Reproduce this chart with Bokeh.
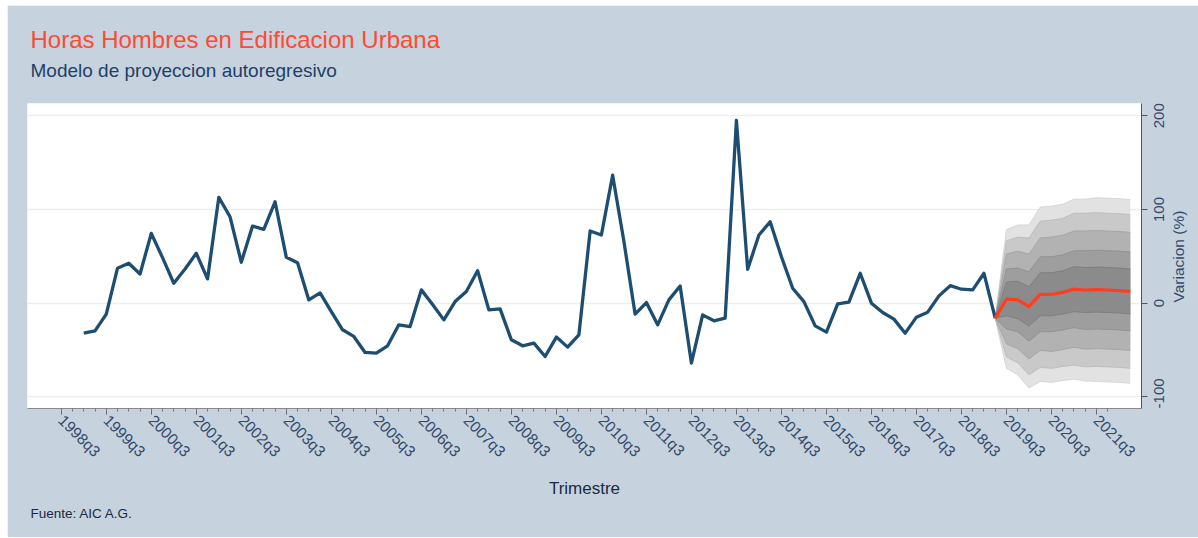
import math
from bokeh.plotting import figure
from bokeh.models import Range1d, FixedTicker, Title, LinearAxis
from bokeh.embed import file_html
from bokeh.resources import INLINE

# ---------------- data ----------------
# quarter index: 0 = 1998q3
hist_start = 2   # 1999q1
hist_vals = [-32, -29.5, -11.7, 37.3, 42.6, 31.2, 74.5, 48.6, 21.3, 36.5,
             53.2, 25.9, 112.9, 92.2, 43.7, 82.3, 78.8, 108.2, 49.0, 43.2,
             3.5, 11.0, -9.0, -28.4, -35.5, -52.6, -53.3, -45.5, -23.1, -24.9,
             14.2, -1.5, -17.8, 1.7, 12.4, 34.7, -7.1, -6.1, -39.1, -45.5,
             -42.6, -56.9, -36.2, -46.9, -33.8, 77.0, 72.7, 136.6, 66.0, -11.7,
             0.7, -23.1, 3.5, 18.4, -63.9, -12.5, -18.8, -16.0, 195.2, 36.2,
             72.7, 86.9, 49.6, 16.0, 1.7, -24.2, -30.9, -0.7, 1.1, 31.9,
             0.0, -10.0, -17.0, -32.0, -14.9, -9.6, 7.8, 18.7, 14.9, 14.2,
             31.9, -16.0]

fc_start = 83    # 2019q2
fc_mean = [-16, 4.5, 3.5, -3.5, 9.5, 9.5, 11.5, 15, 14, 14.5, 14, 13.5, 12.5]
fc_up5 = [-16, 78.5, 83.5, 83.5, 102.5, 103.5, 105.5, 111, 111, 112.5, 112, 111.5, 110.5]
fc_lo5 = [-16, -69.5, -76.5, -90.5, -83.5, -84.5, -82.5, -81, -83, -83.5, -84, -84.5, -85.5]
fc_up4 = [-16, 66.5, 70.5, 69.5, 87.5, 88.5, 90.5, 96, 96, 96.5, 96, 95.5, 94.5]
fc_lo4 = [-16, -57.5, -63.5, -76.5, -68.5, -69.5, -67.5, -66, -68, -67.5, -68, -68.5, -69.5]
fc_up3 = [-16, 52.5, 55.5, 52.5, 69.5, 70.5, 72.5, 77, 77, 77.5, 77, 76.5, 75.5]
fc_lo3 = [-16, -43.5, -48.5, -59.5, -50.5, -51.5, -49.5, -47, -49, -48.5, -49, -49.5, -50.5]
fc_up2 = [-16, 36.5, 37.5, 33.5, 49.5, 49.5, 51.5, 56, 56, 56.5, 56, 55.5, 54.5]
fc_lo2 = [-16, -27.5, -30.5, -40.5, -30.5, -30.5, -28.5, -26, -28, -27.5, -28, -28.5, -29.5]
fc_up1 = [-16, 22.5, 23.5, 17.5, 32.5, 32.5, 34.5, 39, 38, 38.5, 38, 37.5, 36.5]
fc_lo1 = [-16, -13.5, -16.5, -24.5, -13.5, -13.5, -11.5, -9, -10, -9.5, -10, -10.5, -11.5]

tick_labels = ["1998q3", "1999q3", "2000q3", "2001q3", "2002q3", "2003q3",
               "2004q3", "2005q3", "2006q3", "2007q3", "2008q3", "2009q3",
               "2010q3", "2011q3", "2012q3", "2013q3", "2014q3", "2015q3",
               "2016q3", "2017q3", "2018q3", "2019q3", "2020q3", "2021q3"]
y_ticks = [-100, 0, 100, 200]
y_tick_labels = ["-100", "0", "100", "200"]

title_text = "Horas Hombres en Edificacion Urbana"
subtitle_text = "Modelo de proyeccion autoregresivo"
x_title = "Trimestre"
y_title = "Variacion (%)"
source_text = "Fuente: AIC A.G."

# ---------------- layout ----------------
BG = "#c6d3de"
FONT = "Liberation Sans"
Y0, Y1 = -112.4, 213.1
FRAME_H = 305
PX_PER_UNIT = FRAME_H / (Y1 - Y0)
YTICK_FS = 15
YTITLE_FS = 15.5
CHAR_EM = {"-": 0.333, "(": 0.333, ")": 0.333, "%": 0.889, " ": 0.278,
           "V": 0.667, "r": 0.333, "i": 0.222, "c": 0.5}


def text_px(s, fs):
    # approximate advance width (Arial / Liberation Sans metrics)
    return sum(CHAR_EM.get(c, 0.556) for c in s) * fs


def start_of(center, s, fs):
    # vertical (bottom-to-top) labels start at their anchor: shift the anchor
    # down by half the text length so the text is centred on `center`,
    # but keep it inside the axis range
    return round(max(center - text_px(s, fs) / 2 / PX_PER_UNIT, Y0 + 0.1), 3)


hist_x = [hist_start + i for i in range(len(hist_vals))]
fc_x = [fc_start + i for i in range(len(fc_mean))]
major_ticks = [4 * i for i in range(len(tick_labels))]
minor_ticks = list(range(0, 94))

p = figure(width=1191, height=532, margin=(5, 0, 0, 7),
           x_range=Range1d(-3, 96), y_range=Range1d(Y0, Y1),
           y_axis_location="right",
           output_backend="svg", toolbar_location=None,
           min_border_left=20, min_border_right=55,
           min_border_top=98, min_border_bottom=129,
           background_fill_color="white", border_fill_color=BG,
           outline_line_color=None)

# grid
p.xgrid.visible = False
p.ygrid.ticker = FixedTicker(ticks=y_ticks)
p.ygrid.grid_line_color = "#e9efef"
p.ygrid.grid_line_width = 1.5

# fan bands (outer -> inner)
band_colors = ["#e2e2e2", "#c9c9c9", "#b2b2b2", "#9e9e9e", "#8b8b8b"]
band_edges = ["#d6d6d6", "#bdbdbd", "#a6a6a6", "#929292", "#7f7f7f"]
bands = [(fc_lo5, fc_up5), (fc_lo4, fc_up4), (fc_lo3, fc_up3),
         (fc_lo2, fc_up2), (fc_lo1, fc_up1)]
for (lo, up), col, ec in zip(bands, band_colors, band_edges):
    p.varea(x=fc_x, y1=lo, y2=up, fill_color=col, fill_alpha=1.0)
    p.line(fc_x, up, line_color=ec, line_width=1)
    p.line(fc_x, lo, line_color=ec, line_width=1)

# history line
p.line(hist_x, hist_vals, line_color="#1d4e72", line_width=3.3,
       line_join="round")
# forecast line
p.line(fc_x, fc_mean, line_color="#ff3d1f", line_width=3.3, line_join="round")

# x axis
xa = p.xaxis[0]
xa.ticker = FixedTicker(ticks=major_ticks, minor_ticks=minor_ticks)
xa.major_label_overrides = {t: lab for t, lab in zip(major_ticks, tick_labels)}
xa.major_label_orientation = -math.pi / 4
xa.major_label_text_font = FONT
xa.major_label_text_font_size = "15.5px"
xa.major_label_text_color = "#34496a"
xa.major_label_standoff = 3
xa.major_tick_in = 0
xa.major_tick_out = 6
xa.minor_tick_in = 0
xa.minor_tick_out = 3
xa.axis_line_color = "#8a8a8a"
xa.major_tick_line_color = "#666666"
xa.minor_tick_line_color = "#777777"
xa.axis_label = x_title
xa.axis_label_text_font = FONT
xa.axis_label_text_font_style = "normal"
xa.axis_label_text_font_size = "17px"
xa.axis_label_text_color = "#1a2a40"
xa.axis_label_standoff = 10


def blank_axis(**kw):
    base = dict(major_tick_in=0, major_tick_out=0, minor_tick_in=0,
                minor_tick_out=0, axis_line_color=None,
                major_tick_line_color=None, minor_tick_line_color=None)
    base.update(kw)
    return LinearAxis(**base)


# right axis 1: axis line + tick marks (drawn as minor ticks, no labels)
ya = p.yaxis[0]
ya.ticker = FixedTicker(ticks=[], minor_ticks=y_ticks)
ya.major_tick_in = 0
ya.major_tick_out = 6
ya.minor_tick_in = 0
ya.minor_tick_out = 6
ya.axis_line_color = "#555555"
ya.minor_tick_line_color = "#555555"
ya.major_tick_line_color = "#555555"

# right axis 2: tick labels, centred on their ticks
label_pos = [start_of(v, lab, YTICK_FS) for v, lab in zip(y_ticks, y_tick_labels)]
ya2 = blank_axis(ticker=FixedTicker(ticks=label_pos, minor_ticks=[]),
                 major_label_overrides={pos: lab for pos, lab in zip(label_pos, y_tick_labels)},
                 major_label_orientation=math.pi / 2,
                 major_label_text_font=FONT,
                 major_label_text_font_size=f"{YTICK_FS}px",
                 major_label_text_color="#34496a",
                 major_label_standoff=12)
p.add_layout(ya2, "right")

# right axis 3: axis title, drawn as a single label centred on the frame
title_pos = start_of((Y0 + Y1) / 2, y_title, YTITLE_FS)
ya3 = blank_axis(ticker=FixedTicker(ticks=[title_pos], minor_ticks=[]),
                 major_label_overrides={title_pos: y_title},
                 major_label_orientation=math.pi / 2,
                 major_label_text_font=FONT,
                 major_label_text_font_size=f"{YTITLE_FS}px",
                 major_label_text_color="#34496a",
                 major_label_standoff=6)
p.add_layout(ya3, "right")

# spacer between frame and subtitle (an axis with invisible ticks only)
spacer = blank_axis(ticker=FixedTicker(ticks=[], minor_ticks=[10]),
                    major_tick_out=22, minor_tick_out=22)
p.add_layout(spacer, "above")

p.add_layout(Title(text=subtitle_text, align="left", offset=3,
                   text_font=FONT, text_font_size="19px",
                   text_font_style="normal", text_color="#1f3f66",
                   standoff=2), "above")
p.add_layout(Title(text=title_text, align="left", offset=3,
                   text_font=FONT, text_font_size="24px",
                   text_font_style="normal", text_color="#ff4a30",
                   standoff=7), "above")
p.add_layout(Title(text=source_text, align="left", offset=3,
                   text_font=FONT, text_font_size="13.5px",
                   text_font_style="normal", text_color="#1a2a40",
                   standoff=4), "below")

open("out.html", "w").write(file_html(p, INLINE))
